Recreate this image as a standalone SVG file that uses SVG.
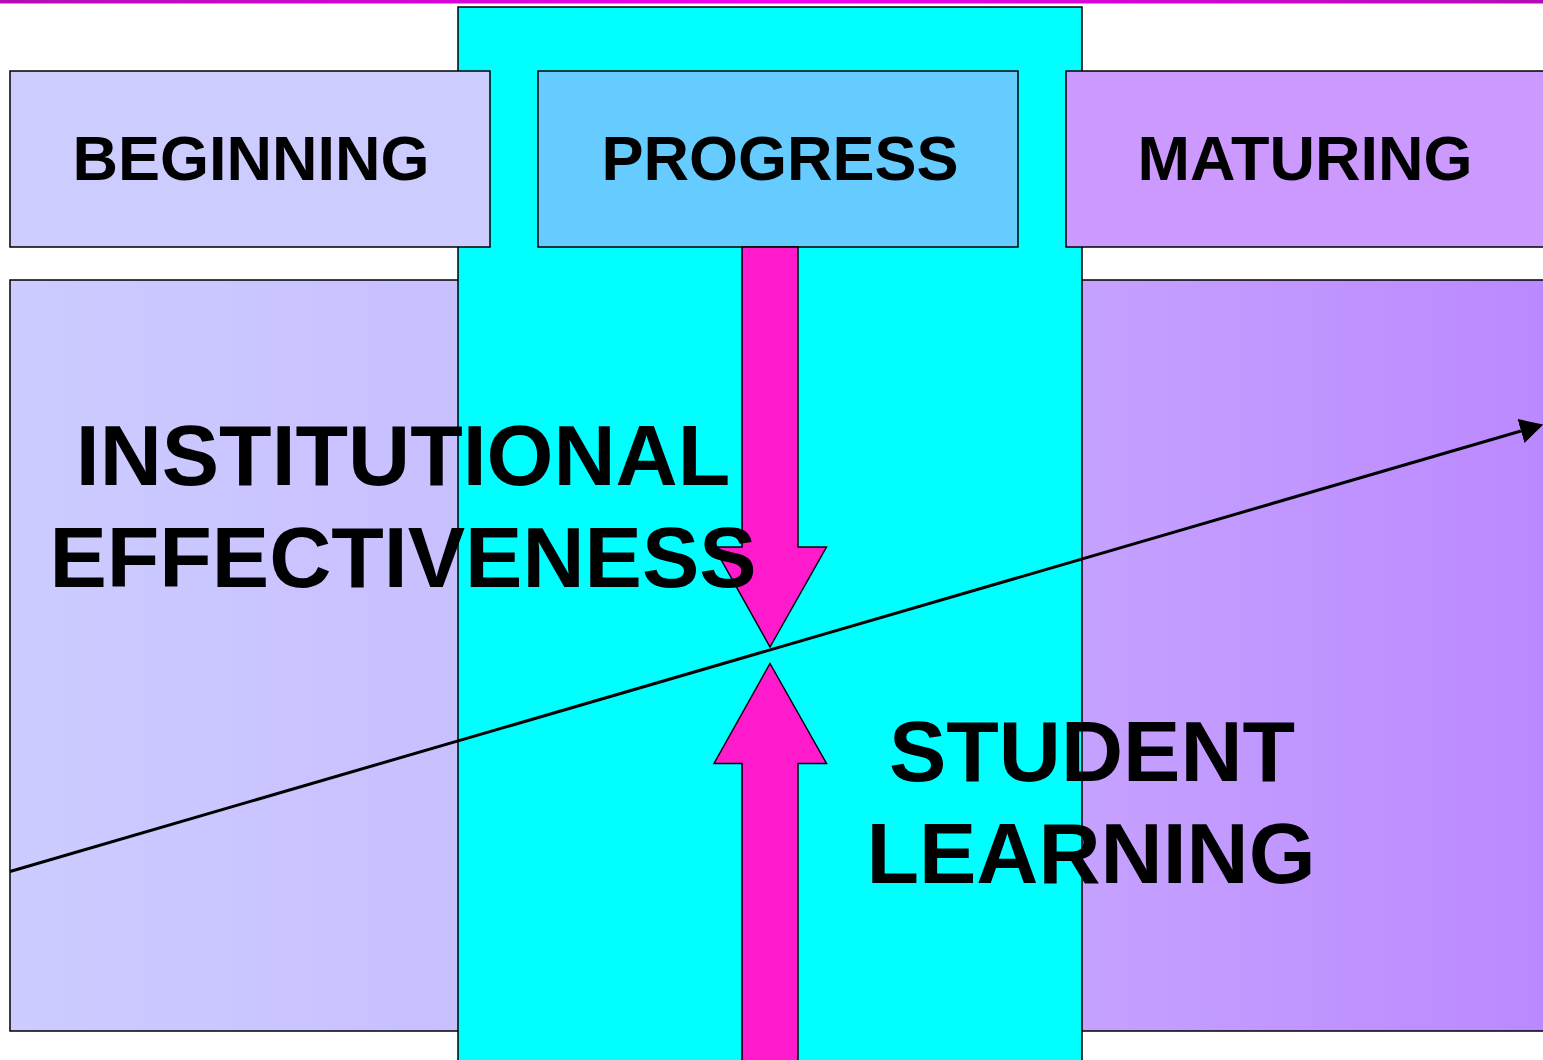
<svg xmlns="http://www.w3.org/2000/svg" width="1543" height="1060" viewBox="0 0 1543 1060">
  <defs>
    <linearGradient id="topBar" x1="0" y1="0" x2="1" y2="0">
      <stop offset="0" stop-color="#b30db3"/>
      <stop offset="0.5" stop-color="#f000f0"/>
      <stop offset="1" stop-color="#b30db3"/>
    </linearGradient>
    <linearGradient id="leftPanel" x1="0" y1="0" x2="1" y2="0">
      <stop offset="0" stop-color="#ccccff"/>
      <stop offset="1" stop-color="#c8bfff"/>
    </linearGradient>
    <linearGradient id="rightPanel" x1="0" y1="0" x2="1" y2="0">
      <stop offset="0" stop-color="#c5a2ff"/>
      <stop offset="1" stop-color="#bb88ff"/>
    </linearGradient>
    <marker id="arrowHead" markerUnits="userSpaceOnUse" viewBox="0 0 23 25" refX="0" refY="12.5" markerWidth="23" markerHeight="25" orient="auto">
      <path d="M0,0 L23,12.5 L0,25 Z" fill="#000"/>
    </marker>
  </defs>
  <style>
    .box { stroke: #000; stroke-width: 1.5; }
    .pink { fill: #ff1acc; stroke: #000; stroke-width: 1.5; stroke-linejoin: miter; }
    .hdr { font-family: "Liberation Sans", Arial, sans-serif; font-weight: bold; font-size: 63px; fill: #000; text-anchor: middle; }
    .big { font-family: "Liberation Sans", Arial, sans-serif; font-weight: bold; font-size: 86px; fill: #000; text-anchor: middle; }
  </style>

  <rect width="1543" height="1060" fill="#ffffff"/>
  <!-- top rule -->
  <rect x="0" y="0" width="1543" height="3.5" fill="url(#topBar)"/>

  <!-- background panels -->
  <g id="panel-left">
    <rect class="box" x="10" y="280" width="460" height="751" fill="url(#leftPanel)"/>
  </g>
  <g id="panel-right">
    <rect class="box" x="1070" y="280" width="490" height="751" fill="url(#rightPanel)"/>
  </g>
  <g id="column-progress">
    <rect class="box" x="458" y="7" width="624" height="1070" fill="#00ffff"/>
  </g>

  <!-- stage headers -->
  <g id="node-beginning">
    <rect class="box" x="10" y="71" width="480" height="176" fill="#ccccff"/>
    <text class="hdr" x="251" y="180">BEGINNING</text>
  </g>
  <g id="node-progress">
    <rect class="box" x="538" y="71" width="480" height="176" fill="#66ccff"/>
    <text class="hdr" x="780" y="180">PROGRESS</text>
  </g>
  <g id="node-maturing">
    <rect class="box" x="1066" y="71" width="500" height="176" fill="#cc99ff"/>
    <text class="hdr" x="1305" y="180">MATURING</text>
  </g>

  <!-- converging block arrows -->
  <g id="arrow-down">
    <path class="pink" d="M742,247 L798,247 L798,547 L826.5,547 L770,647 L714,547 L742,547 Z"/>
  </g>
  <g id="arrow-up">
    <path class="pink" d="M770,663.5 L826.5,763.5 L798,763.5 L798,1070 L742,1070 L742,763.5 L714,763.5 Z"/>
  </g>

  <!-- connectors -->
  <g id="connectors">
    <line x1="10" y1="871.5" x2="1521" y2="431" stroke="#000" stroke-width="3" marker-end="url(#arrowHead)"/>
  </g>

  <!-- labels -->
  <g id="node-institutional">
    <text class="big" x="403" y="485">INSTITUTIONAL</text>
    <text class="big" x="403" y="587">EFFECTIVENESS</text>
  </g>
  <g id="node-student">
    <text class="big" x="1092" y="781">STUDENT</text>
    <text class="big" x="1091" y="883">LEARNING</text>
  </g>
</svg>
